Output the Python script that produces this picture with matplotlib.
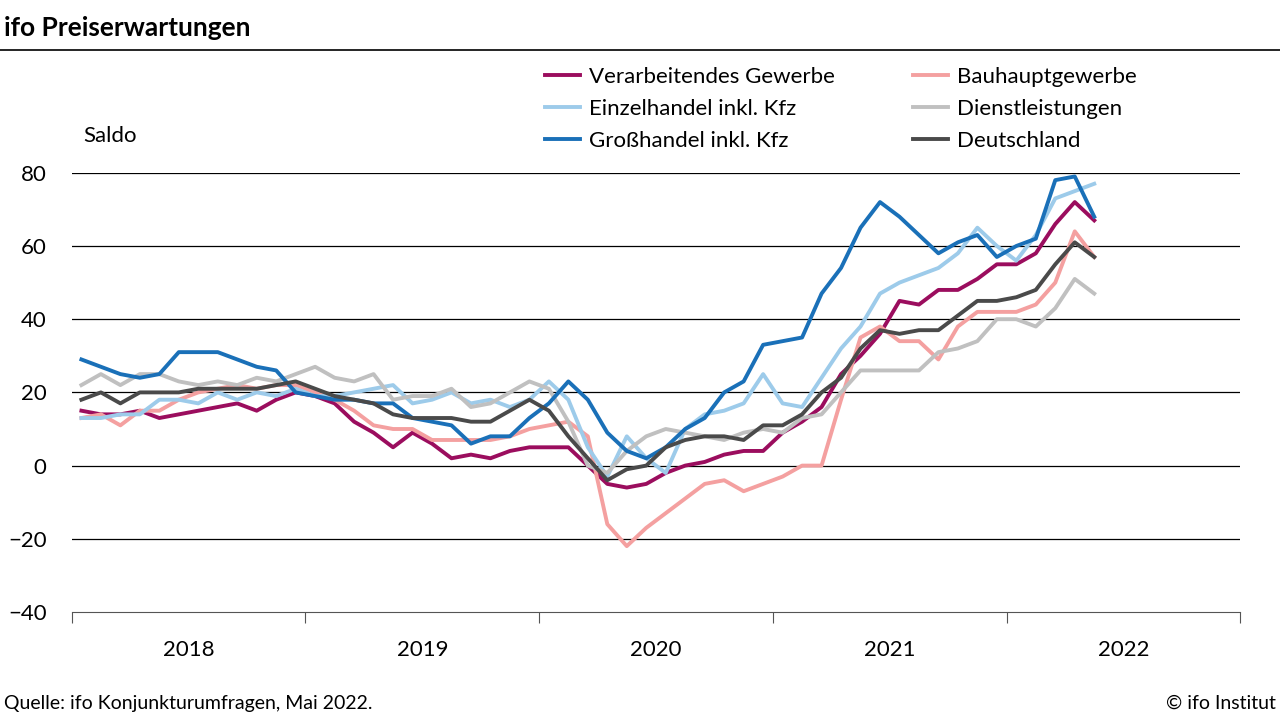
import numpy as np
import matplotlib.pyplot as plt
from matplotlib.lines import Line2D

plt.rcParams['font.family'] = ['Lato', 'DejaVu Sans']

# Monatswerte Jan 2018 - Mai 2022
verarb = [15,14,14,15,13,14,15,16,17,15,18,20,
          19,17,12,9,5,9,6,2,3,2,4,5,
          5,5,0,-5,-6,-5,-2,0,1,3,4,4,
          9,12,16,25,30,36,45,44,48,48,51,55,
          55,58,66,72,67]
bau = [13,14,11,15,15,18,20,21,22,21,22,22,
       20,18,15,11,10,10,7,7,7,7,8,10,
       11,12,8,-16,-22,-17,-13,-9,-5,-4,-7,-5,
       -3,0,0,18,35,38,34,34,29,38,42,42,
       42,44,50,64,57]
einzel = [13,13,14,14,18,18,17,20,18,20,19,21,
          19,19,20,21,22,17,18,20,17,18,16,18,
          23,18,5,-3,8,2,-2,10,14,15,17,25,
          17,16,24,32,38,47,50,52,54,58,65,60,
          56,63,73,75,77]
dienst = [22,25,22,25,25,23,22,23,22,24,23,25,
          27,24,23,25,18,19,19,21,16,17,20,23,
          21,12,0,-2,4,8,10,9,8,7,9,10,
          9,13,14,20,26,26,26,26,31,32,34,40,
          40,38,43,51,47]
gross = [29,27,25,24,25,31,31,31,29,27,26,20,
         19,18,18,17,17,13,12,11,6,8,8,13,
         17,23,18,9,4,2,5,10,13,20,23,33,
         34,35,47,54,65,72,68,63,58,61,63,57,
         60,62,78,79,68]
de = [18,20,17,20,20,20,21,21,21,21,22,23,
      21,19,18,17,14,13,13,13,12,12,15,18,
      15,8,2,-4,-1,0,5,7,8,8,7,11,
      11,14,20,24,32,37,36,37,37,41,45,45,
      46,48,55,61,57]
years = ['2018', '2019', '2020', '2021', '2022']

series = [
    ('Verarbeitendes Gewerbe', verarb, '#9b0d5e'),
    ('Bauhauptgewerbe', bau, '#f4a0a0'),
    ('Einzelhandel inkl. Kfz', einzel, '#9dcbea'),
    ('Dienstleistungen', dienst, '#c0c0c0'),
    ('Großhandel inkl. Kfz', gross, '#1a70b8'),
    ('Deutschland', de, '#4a4a4a'),
]

fig = plt.figure(figsize=(12.8, 7.2), dpi=100)
ax = fig.add_axes([0.056, 0.15, 0.913, 0.61])
x = np.arange(len(de)) + 0.5
for name, vals, col in series:
    ax.plot(x, vals, color=col, lw=2.8, label=name)

ax.set_ylim(-40, 80)
ax.set_xlim(0, 60)
ax.set_yticks(range(-40, 81, 20))
for v in range(-20, 81, 20):
    ax.axhline(v, color='black', lw=0.9, zorder=0)
for s in ['top', 'right', 'left']:
    ax.spines[s].set_visible(False)
ax.spines['bottom'].set_color('#555555')
ax.set_xticks(range(0, 61, 12))
ax.set_xticklabels([])
ax.set_xticks(np.arange(6, 60, 12), minor=True)
ax.set_xticklabels(years, minor=True, fontsize=16)
ax.tick_params(axis='x', which='major', length=8, color='#555555')
ax.tick_params(axis='x', which='minor', length=0, pad=20)
ax.tick_params(axis='y', length=0, labelsize=16, pad=18)

fig.text(0.065, 0.803, 'Saldo', fontsize=16)
fig.text(0.003, 0.95, 'ifo Preiserwartungen', fontsize=19, fontweight='bold')
fig.add_artist(Line2D([0, 1], [0.93, 0.93], color='black', lw=1.2))
fig.text(0.003, 0.015, 'Quelle: ifo Konjunkturumfragen, Mai 2022.', fontsize=14)
fig.text(0.997, 0.015, '© ifo Institut', fontsize=14, ha='right')

handles, labels = ax.get_legend_handles_labels()
order = [0, 2, 4, 1, 3, 5]
fig.legend([handles[i] for i in order], [labels[i] for i in order], ncol=2,
           loc='upper left', bbox_to_anchor=(0.41, 0.935),
           frameon=False, fontsize=16, handlelength=1.6, columnspacing=3.5,
           labelspacing=0.55, handletextpad=0.4)

fig.savefig('out.png')
